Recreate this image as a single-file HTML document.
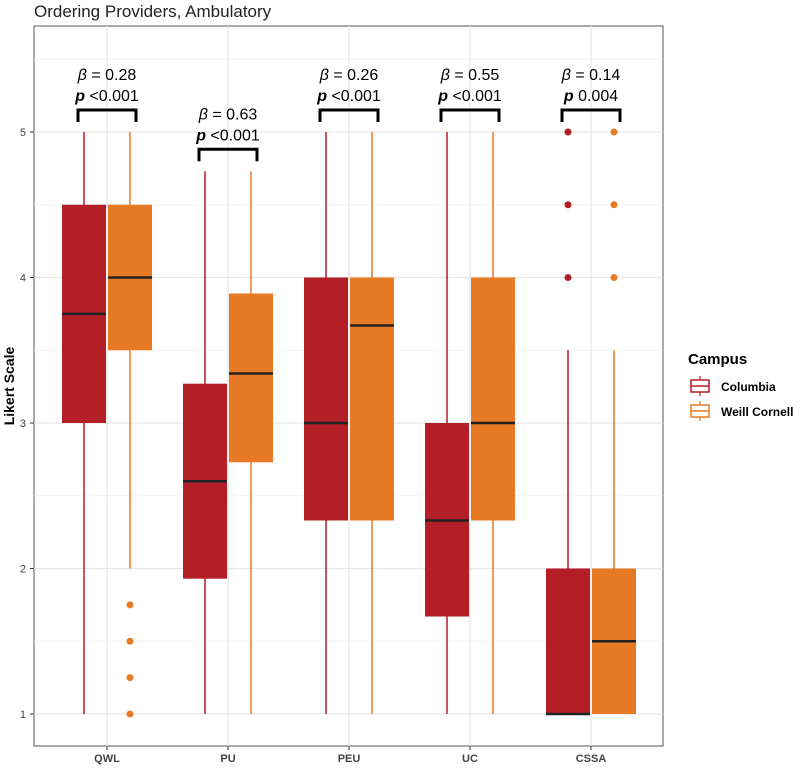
<!DOCTYPE html>
<html><head><meta charset="utf-8"><style>
body{margin:0;background:#fff;font-family:"Liberation Sans",sans-serif}
</style></head><body>
<svg id="chart" width="800" height="765" xmlns="http://www.w3.org/2000/svg">
<text x="34" y="17" font-size="17" fill="#222">Ordering Providers, Ambulatory</text>
<rect x="34" y="26" width="629" height="720" fill="#fff" stroke="#555" stroke-width="1"/>
<g id="grid"></g><g id="marks"></g><g id="ann"></g><g id="axes"></g>
<text transform="translate(14,386) rotate(-90)" text-anchor="middle" font-size="14" font-weight="bold" fill="#000">Likert Scale</text>
<g>
<text x="688" y="364" font-size="15" font-weight="bold">Campus</text>
<g>
<line x1="700" y1="376" x2="700" y2="396" stroke="#b31e27" stroke-width="1.2"/>
<rect x="691" y="380" width="18" height="12" fill="#fff" stroke="#b31e27" stroke-width="1.5"/>
<line x1="691" y1="386" x2="709" y2="386" stroke="#b31e27" stroke-width="1.5"/>
<text x="721" y="391" font-size="12" font-weight="bold">Columbia</text></g>
<g>
<line x1="700" y1="401" x2="700" y2="421" stroke="#e87a25" stroke-width="1.2"/>
<rect x="691" y="405" width="18" height="12" fill="#fff" stroke="#e87a25" stroke-width="1.5"/>
<line x1="691" y1="411" x2="709" y2="411" stroke="#e87a25" stroke-width="1.5"/>
<text x="721" y="416" font-size="12" font-weight="bold">Weill Cornell</text></g>
</g>
</svg>
<script>
const categories=["QWL","PU","PEU","UC","CSSA"];
const colLow=[1,1,1,1,1], colQ1=[3,1.93,2.33,1.67,1], colMed=[3.75,2.6,3,2.33,1], colQ3=[4.5,3.27,4,3,2], colHigh=[5,4.73,5,5,3.5];
const wcLow=[2,1,1,1,1], wcQ1=[3.5,2.73,2.33,2.33,1], wcMed=[4,3.34,3.67,3,1.5], wcQ3=[4.5,3.89,4,4,2], wcHigh=[5,4.73,5,5,3.5];
const colOut=[[],[],[],[],[4,4.5,5]];
const wcOut=[[1,1.25,1.5,1.75],[],[],[],[4,4.5,5]];
const betas=["0.28","0.63","0.26","0.55","0.14"];
const pvals=["<0.001","<0.001","<0.001","<0.001","0.004"];
const yTicks=[1,2,3,4,5];
const NS="http://www.w3.org/2000/svg";
const y=v=>714-(v-1)*145.5;
const x=i=>107+i*121;
function mk(p,tag,at){const e=document.createElementNS(NS,tag);for(const k in at)e.setAttribute(k,at[k]);p.appendChild(e);return e;}
const grid=document.getElementById('grid'),marks=document.getElementById('marks'),ann=document.getElementById('ann'),axes=document.getElementById('axes');
[1.5,2.5,3.5,4.5,5.5].forEach(v=>{const l=mk(grid,'line',{x1:34,x2:663,y1:y(v),y2:y(v),stroke:'#f0f0f0','stroke-width':0.8});

});
yTicks.forEach(v=>{const l=mk(grid,'line',{x1:34,x2:663,y1:y(v),y2:y(v),stroke:'#e6e6e6','stroke-width':1.2});


mk(axes,'line',{x1:30,x2:34,y1:y(v),y2:y(v),stroke:'#333'});
const t=mk(axes,'text',{x:26,y:y(v)+4,'text-anchor':'end','font-size':11,fill:'#444'});t.textContent=v;

});
categories.forEach((c,i)=>{const l=mk(grid,'line',{x1:x(i),x2:x(i),y1:26,y2:746,stroke:'#e6e6e6','stroke-width':1.2});


mk(axes,'line',{x1:x(i),x2:x(i),y1:746,y2:750,stroke:'#333'});
const t=mk(axes,'text',{x:x(i),y:762,'text-anchor':'middle','font-size':11,'font-weight':'bold',fill:'#444'});t.textContent=c;

});
function box(i,off,col,lo,q1,md,q3,hi,outs,name){
const cx=x(i)+off,g=mk(marks,'g',{});


mk(g,'line',{x1:cx,x2:cx,y1:y(lo),y2:y(hi),stroke:col,'stroke-width':1.5});
mk(g,'rect',{x:cx-22,y:y(q3),width:44,height:Math.max(y(q1)-y(q3),0.5),fill:col});
mk(g,'line',{x1:cx-22,x2:cx+22,y1:y(md),y2:y(md),stroke:'#222','stroke-width':2.5});
outs.forEach(o=>{const c=mk(g,'circle',{cx:cx,cy:y(o),r:3.5,fill:col});

});}
categories.forEach((c,i)=>{
box(i,-23,'#b31e27',colLow[i],colQ1[i],colMed[i],colQ3[i],colHigh[i],colOut[i],'columbia');
box(i,23,'#e87a25',wcLow[i],wcQ1[i],wcMed[i],wcQ3[i],wcHigh[i],wcOut[i],'weill-cornell');
const top=Math.max(colHigh[i],wcHigh[i],...colOut[i],...wcOut[i]);
const by=y(top)-22,g=mk(ann,'g',{});


mk(g,'path',{d:`M${x(i)-29},${by+12}V${by}H${x(i)+29}V${by+12}`,fill:'none',stroke:'#000','stroke-width':3});
const t1=mk(g,'text',{x:x(i),y:by-30,'text-anchor':'middle','font-size':16,fill:'#000'});
t1.innerHTML='<tspan font-style="italic">β</tspan> = '+betas[i];
const t2=mk(g,'text',{x:x(i),y:by-9,'text-anchor':'middle','font-size':16,fill:'#000'});
t2.innerHTML='<tspan font-style="italic" font-weight="bold">p</tspan> '+pvals[i].replace('<','&lt;');
});
</script>
</body></html>
